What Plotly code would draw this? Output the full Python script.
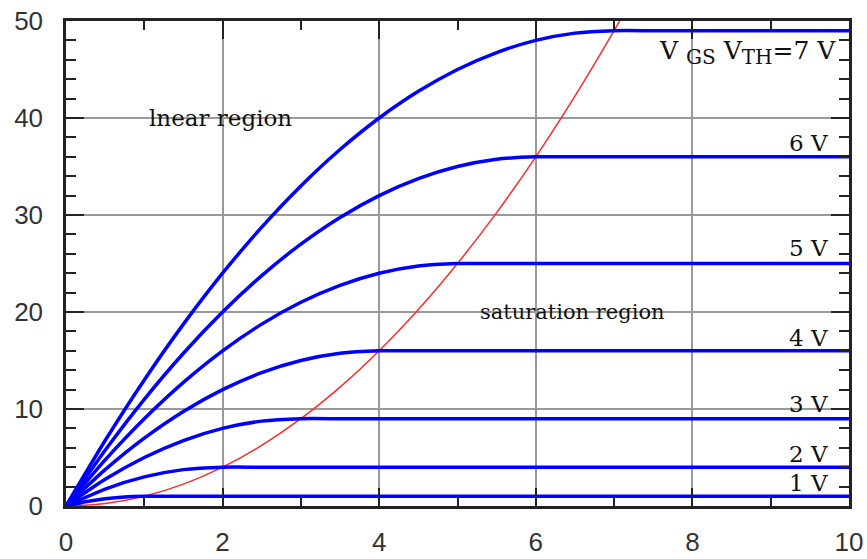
import plotly.graph_objects as go

# ---- data ----
x_7v = [0, 0.5, 1, 1.5, 2, 2.5, 3, 3.5, 4, 4.5, 5, 5.5, 6, 6.5, 7, 7.5, 8, 10]
y_7v = [0, 6.75, 13, 18.75, 24, 28.75, 33, 36.75, 40, 42.75, 45, 46.75, 48, 48.75, 49, 49, 49, 49]

x_6v = [0, 0.5, 1, 1.5, 2, 2.5, 3, 3.5, 4, 4.5, 5, 5.5, 6, 6.5, 7, 10]
y_6v = [0, 5.75, 11, 15.75, 20, 23.75, 27, 29.75, 32, 33.75, 35, 35.75, 36, 36, 36, 36]

x_5v = [0, 0.5, 1, 1.5, 2, 2.5, 3, 3.5, 4, 4.5, 5, 5.5, 6, 10]
y_5v = [0, 4.75, 9, 12.75, 16, 18.75, 21, 22.75, 24, 24.75, 25, 25, 25, 25]

x_4v = [0, 0.5, 1, 1.5, 2, 2.5, 3, 3.5, 4, 4.5, 5, 10]
y_4v = [0, 3.75, 7, 9.75, 12, 13.75, 15, 15.75, 16, 16, 16, 16]

x_3v = [0, 0.5, 1, 1.5, 2, 2.5, 3, 3.5, 4, 10]
y_3v = [0, 2.75, 5, 6.75, 8, 8.75, 9, 9, 9, 9]

x_2v = [0, 0.5, 1, 1.5, 2, 2.5, 3, 10]
y_2v = [0, 1.75, 3, 3.75, 4, 4, 4, 4]

x_1v = [0, 0.25, 0.5, 0.75, 1, 1.25, 1.5, 10]
y_1v = [0, 0.44, 0.75, 0.94, 1, 1, 1, 1]

x_sat = [0, 0.5, 1, 1.5, 2, 2.5, 3, 3.5, 4, 4.5, 5, 5.5, 6, 6.5, 7, 7.07]
y_sat = [0, 0.25, 1, 2.25, 4, 6.25, 9, 12.25, 16, 20.25, 25, 30.25, 36, 42.25, 49, 50]

sub_style = "<span style='font-size:20px'>{}</span>"
curve_labels = ["V <sub>" + sub_style.format("GS") + "</sub> V<sub>" + sub_style.format("TH") + "</sub>=7 V",
                "6 V", "5 V", "4 V", "3 V", "2 V", "1 V"]
label_y = [46.8, 37.4, 26.6, 17.3, 10.5, 5.4, 2.4]
region_labels = ["lnear region", "saturation region"]

x_ticks = [0, 2, 4, 6, 8, 10]
y_ticks = [0, 10, 20, 30, 40, 50]

curves = [(x_7v, y_7v), (x_6v, y_6v), (x_5v, y_5v), (x_4v, y_4v),
          (x_3v, y_3v), (x_2v, y_2v), (x_1v, y_1v)]

fig = go.Figure()
fig.add_trace(go.Scatter(x=x_sat, y=y_sat, mode="lines",
                         line=dict(color="#ff2a2a", width=1.5, shape="spline"),
                         showlegend=False, hoverinfo="skip"))
for xs, ys in curves:
    fig.add_trace(go.Scatter(x=xs, y=ys, mode="lines",
                             line=dict(color="#0000ff", width=3.5, shape="spline", smoothing=0.6),
                             showlegend=False, hoverinfo="skip"))

serif = "DejaVu Serif"
for i, (txt, yv) in enumerate(zip(curve_labels, label_y)):
    fig.add_annotation(x=9.76 if i else 9.86, y=yv, text=txt, showarrow=False,
                       xanchor="right", yanchor="middle",
                       font=dict(family=serif, size=23 if i else 25, color="#111111"))
fig.add_annotation(x=1.04, y=40, text=region_labels[0], showarrow=False,
                   xanchor="left", yanchor="middle",
                   font=dict(family=serif, size=23, color="#111111"))
fig.add_annotation(x=5.26, y=20, text=region_labels[1], showarrow=False,
                   xanchor="left", yanchor="middle",
                   font=dict(family=serif, size=21, color="#111111"))

axis_common = dict(
    showline=True, linecolor="#222222", linewidth=2.5, mirror="ticks",
    ticks="inside", ticklen=18, tickwidth=2, tickcolor="#222222",
    showgrid=True, gridcolor="#9a9a9a", gridwidth=1.5,
    zeroline=False, automargin=False,
    tickfont=dict(family="Liberation Sans", size=26, color="#333333"),
)

fig.update_xaxes(range=[0, 10], tickvals=x_ticks, ticktext=[str(v) for v in x_ticks],
                 minor=dict(dtick=1, tick0=0, ticks="inside", ticklen=9, tickwidth=2,
                            tickcolor="#222222", showgrid=False),
                 ticklabelstandoff=11, **axis_common)
fig.update_yaxes(range=[0, 50], tickvals=y_ticks, ticktext=[str(v) for v in y_ticks],
                 minor=dict(dtick=2, tick0=0, ticks="inside", ticklen=10, tickwidth=2,
                            tickcolor="#222222", showgrid=False),
                 ticklabelstandoff=15, **axis_common)

fig.update_layout(
    width=867, height=559,
    margin=dict(l=66, r=18, t=21, b=53, autoexpand=False),
    plot_bgcolor="white", paper_bgcolor="white",
    showlegend=False,
)

fig.write_html("out.html")
